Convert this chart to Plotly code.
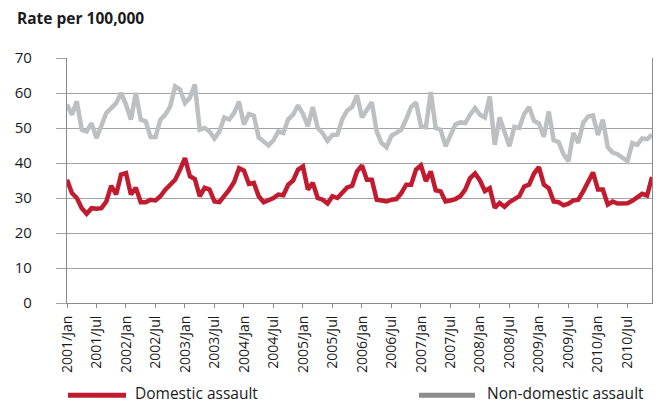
import plotly.graph_objects as go

years = list(range(2001, 2011))
month_names = ["Jan", "Feb", "Mar", "Apr", "May", "Jun", "Jul", "Aug", "Sep", "Oct", "Nov", "Dec"]
months = [f"{y}/{m}" for y in years for m in month_names]

domestic = [
    35.2, 31.4, 30.0, 27.1, 25.5, 27.1, 26.9, 27.1, 29.0, 33.5, 31.0, 36.7,
    37.1, 31.0, 32.9, 28.8, 28.8, 29.5, 29.3, 30.5, 32.4, 33.8, 35.2, 38.1,
    41.4, 36.2, 35.4, 30.5, 32.9, 32.4, 29.0, 28.8, 30.5, 32.4, 34.6, 38.5,
    37.8, 34.0, 34.3, 30.5, 28.8, 29.3, 30.0, 31.0, 30.8, 33.8, 35.0, 38.1,
    39.0, 32.4, 34.3, 30.0, 29.5, 28.4, 30.5, 30.0, 31.5, 33.0, 33.5, 37.6,
    39.3, 35.2, 35.2, 29.5, 29.3, 29.0, 29.5, 29.7, 31.4, 33.8, 33.8, 38.1,
    39.3, 34.8, 37.6, 32.2, 31.9, 29.0, 29.3, 29.7, 30.5, 32.4, 35.7, 37.0,
    35.0, 32.0, 32.8, 27.2, 28.6, 27.5, 28.8, 29.5, 30.5, 33.3, 33.8, 37.0,
    38.8, 33.8, 32.8, 29.0, 28.8, 27.9, 28.4, 29.3, 29.5, 31.9, 34.8, 37.3,
    32.4, 32.4, 28.1, 29.0, 28.4, 28.3, 28.5, 29.2, 30.2, 31.2, 30.7, 36.0,
]

non_domestic = [
    56.7, 53.8, 57.6, 49.5, 49.0, 51.4, 47.1, 51.0, 54.3, 55.7, 57.1, 60.0,
    56.7, 52.4, 60.0, 52.4, 51.9, 47.4, 47.4, 52.4, 53.8, 56.2, 61.9, 61.0,
    57.1, 58.6, 62.4, 49.5, 50.0, 49.0, 47.0, 49.0, 53.0, 52.4, 54.3, 57.5,
    51.0, 54.0, 53.5, 47.3, 46.2, 45.0, 46.5, 49.0, 48.6, 52.5, 53.8, 56.5,
    54.0, 50.5, 56.0, 50.0, 48.5, 46.3, 48.0, 48.1, 52.5, 55.0, 56.0, 59.3,
    53.0, 55.2, 57.4, 49.0, 45.7, 44.5, 47.8, 48.6, 49.5, 52.5, 56.0, 57.3,
    50.5, 50.2, 60.3, 50.0, 49.5, 44.8, 48.1, 51.0, 51.6, 51.4, 53.8, 55.7,
    53.8, 53.0, 59.0, 45.2, 53.0, 48.6, 44.8, 50.3, 50.0, 54.0, 56.0, 52.0,
    51.3, 47.5, 54.7, 46.5, 46.0, 42.5, 40.5, 48.6, 45.7, 51.5, 53.3, 53.6,
    48.0, 52.4, 44.5, 43.0, 42.5, 41.5, 40.5, 45.7, 45.2, 47.0, 46.8, 48.1,
]

tick_labels = months[::6]
y_ticks = [0, 10, 20, 30, 40, 50, 60, 70]

RED = "#C11B30"
GREY = "#BEBFC1"
GREY_LEG = "#8C8C8C"
GRID = "#A3A3A3"
FONT = "Open Sans"

fig = go.Figure()
fig.add_trace(go.Scatter(x=months, y=non_domestic, mode="lines",
                         line=dict(color=GREY, width=4.5), name="Non-domestic assault",
                         showlegend=False))
fig.add_trace(go.Scatter(x=months, y=domestic, mode="lines",
                         line=dict(color=RED, width=4.5), name="Domestic assault",
                         showlegend=False))

fig.update_layout(
    width=669, height=403,
    margin=dict(l=67, r=17, t=58, b=100),
    paper_bgcolor="white", plot_bgcolor="white",
    font=dict(family=FONT, color="#1a1a1a", size=14),
    xaxis=dict(
        type="category", categoryorder="array", categoryarray=months,
        range=[0, len(months) - 1],
        tickvals=tick_labels, ticktext=tick_labels, tickangle=-90,
        showgrid=False, showline=True, linecolor="#8A8A8A", linewidth=1.3,
        ticks="outside", ticklen=4, tickcolor="#8A8A8A",
        tickfont=dict(size=14, family=FONT), ticklabelstandoff=2,
    ),
    yaxis=dict(
        range=[0, 70], tickvals=y_ticks,
        showgrid=True, gridcolor=GRID, gridwidth=1,
        showline=True, linecolor="#8A8A8A", linewidth=1.3, mirror=True,
        ticks="outside", ticklen=10, tickcolor=GRID,
        tickfont=dict(size=15, family=FONT), ticklabelstandoff=21,
        zeroline=False,
    ),
)

# title
fig.add_annotation(xref="paper", yref="paper", x=(15 - 67) / 585, y=(303.3 - 18) / 245,
                   xanchor="left", yanchor="middle", showarrow=False,
                   text="<b>Rate per 100,000</b>", font=dict(size=15.5, family=FONT, color="#1a1a1a"))

# legend drawn manually
leg_y = (303.3 - 395.5) / 245
txt_y = (303.3 - 393.5) / 245
fig.add_shape(type="line", xref="paper", yref="paper",
              x0=(68 - 67) / 585, x1=(126 - 67) / 585, y0=leg_y, y1=leg_y,
              line=dict(color=RED, width=5))
fig.add_shape(type="line", xref="paper", yref="paper",
              x0=(419 - 67) / 585, x1=(475 - 67) / 585, y0=leg_y, y1=leg_y,
              line=dict(color=GREY_LEG, width=5))
fig.add_annotation(xref="paper", yref="paper", x=(133 - 67) / 585, y=txt_y,
                   xanchor="left", yanchor="middle", showarrow=False,
                   text="Domestic assault", font=dict(size=15.5, family=FONT, color="#1a1a1a"))
fig.add_annotation(xref="paper", yref="paper", x=(485 - 67) / 585, y=txt_y,
                   xanchor="left", yanchor="middle", showarrow=False,
                   text="Non-domestic assault", font=dict(size=15.5, family=FONT, color="#1a1a1a"))

fig.write_html("out.html", config={"displayModeBar": False},
               post_script="document.body.style.margin='0';document.body.style.overflow='hidden';")
